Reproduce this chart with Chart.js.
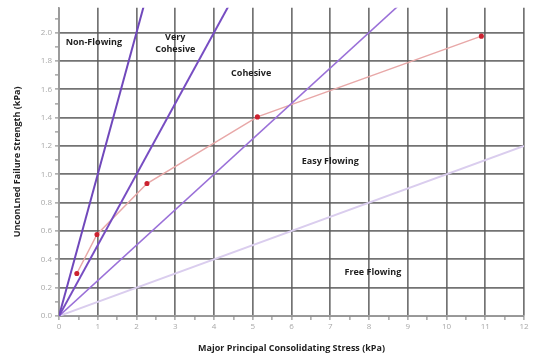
<!DOCTYPE html>
<html>
<head>
<meta charset="utf-8">
<script src="https://cdn.jsdelivr.net/npm/chart.js@4"></script>
<style>
  html, body { margin: 0; padding: 0; background: #fff; }
  #wrap { width: 539px; height: 362px; }
</style>
</head>
<body>
<div id="wrap"><canvas id="flowChart"></canvas></div>
<script>
// measured powder: consolidating stress vs unconfined failure strength
const stressValues = [0.46, 0.98, 2.27, 5.12, 10.9];
const strengthValues = [0.30, 0.575, 0.935, 1.405, 1.975];

// flow function boundaries (ffc)
const flowFactors = [1, 2, 4, 10];
const boundaryColors = ['#7048bb', '#774dc2', '#9a70d8', '#dacdee'];
const boundaryWidths = [2, 2, 1.6, 2];

const regionLabels = ['Non-Flowing', ['Very', 'Cohesive'], 'Cohesive', 'Easy Flowing', 'Free Flowing'];
const regionX = [0.9, 3.0, 4.96, 7.0, 8.1];
const regionY = [1.93, 1.92, 1.715, 1.09, 0.31];

const xMax = 12;
const yMax = 2.175;

const boundaryDatasets = flowFactors.map((ff, i) => ({
    label: 'ffc ' + ff,
    data: [{x: 0, y: 0}, {x: xMax, y: xMax / ff}],
    borderColor: boundaryColors[i],
    borderWidth: boundaryWidths[i],
    pointRadius: 0,
    fill: false
}));

const regionLabelPlugin = {
    id: 'regionLabels',
    afterDatasetsDraw(chart) {
        const ctx = chart.ctx;
        const xs = chart.scales.x;
        const ys = chart.scales.y;
        ctx.save();
        ctx.font = 'bold 9px "Open Sans", sans-serif';
        ctx.fillStyle = '#1e1e1e';
        ctx.textAlign = 'center';
        ctx.textBaseline = 'middle';
        regionLabels.forEach((label, i) => {
            const px = xs.getPixelForValue(regionX[i]);
            const py = ys.getPixelForValue(regionY[i]);
            const lines = Array.isArray(label) ? label : [label];
            lines.forEach((line, j) => {
                ctx.fillText(line, px, py + (j - (lines.length - 1) / 2) * 12);
            });
        });
        ctx.restore();
    }
};

const ctx = document.getElementById('flowChart').getContext('2d');
new Chart(ctx, {
    type: 'line',
    data: {
        datasets: [
            ...boundaryDatasets,
            {
                label: 'Sample',
                data: stressValues.map((x, i) => ({x: x, y: strengthValues[i]})),
                borderColor: '#e8a8a8',
                borderWidth: 1.5,
                pointRadius: 1.8,
                pointBackgroundColor: '#cc2230',
                pointBorderColor: '#cc2230',
                fill: false
            }
        ]
    },
    options: {
        responsive: true,
        maintainAspectRatio: false,
        animation: false,
        layout: { padding: { left: 0, right: 15, top: 5, bottom: 0 } },
        plugins: {
            legend: { display: false },
            tooltip: { enabled: false }
        },
        scales: {
            x: {
                type: 'linear',
                min: 0,
                max: xMax,
                afterFit: (scale) => { scale.height = 46; },
                ticks: {
                    stepSize: 0.5,
                    autoSkip: false,
                    maxRotation: 0,
                    color: '#a8a8a8',
                    font: { size: 8, family: '"Open Sans", sans-serif' },
                    padding: 2,
                    callback: (v) => Number.isInteger(v) ? v : ''
                },
                grid: {
                    color: (c) => Number.isInteger(c.tick.value) ? 'rgba(90,90,90,0.85)' : 'rgba(0,0,0,0)',
                    lineWidth: 1.7,
                    tickColor: '#b0b0b0',
                    tickLength: 4
                },
                border: { color: '#9a9a9a', width: 1.6 },
                title: {
                    display: true,
                    text: 'Major Principal Consolidating Stress (kPa)',
                    color: '#1e1e1e',
                    font: { size: 9, weight: 'bold', family: '"Open Sans", sans-serif' },
                    padding: { top: 4, bottom: 8 }
                }
            },
            y: {
                type: 'linear',
                min: 0,
                max: yMax,
                afterFit: (scale) => { scale.width = 59; },
                ticks: {
                    stepSize: 0.1,
                    includeBounds: false,
                    autoSkip: false,
                    color: '#a8a8a8',
                    font: { size: 8, family: '"Open Sans", sans-serif' },
                    padding: 3,
                    callback: (v) => Math.round(v * 10) % 2 === 0 ? v.toFixed(1) : ''
                },
                grid: {
                    color: (c) => Math.round(c.tick.value * 10) % 2 === 0 ? 'rgba(90,90,90,0.85)' : 'rgba(0,0,0,0)',
                    lineWidth: 1.7,
                    tickColor: '#b0b0b0',
                    tickLength: 4
                },
                border: { color: '#9a9a9a', width: 1.6 },
                title: {
                    display: true,
                    text: 'UnconLned Failure Strength (kPa)',
                    color: '#1e1e1e',
                    font: { size: 9, weight: 'bold', family: '"Open Sans", sans-serif' },
                    padding: { top: 12, bottom: 4 }
                }
            }
        }
    },
    plugins: [regionLabelPlugin]
});
</script>
</body>
</html>
